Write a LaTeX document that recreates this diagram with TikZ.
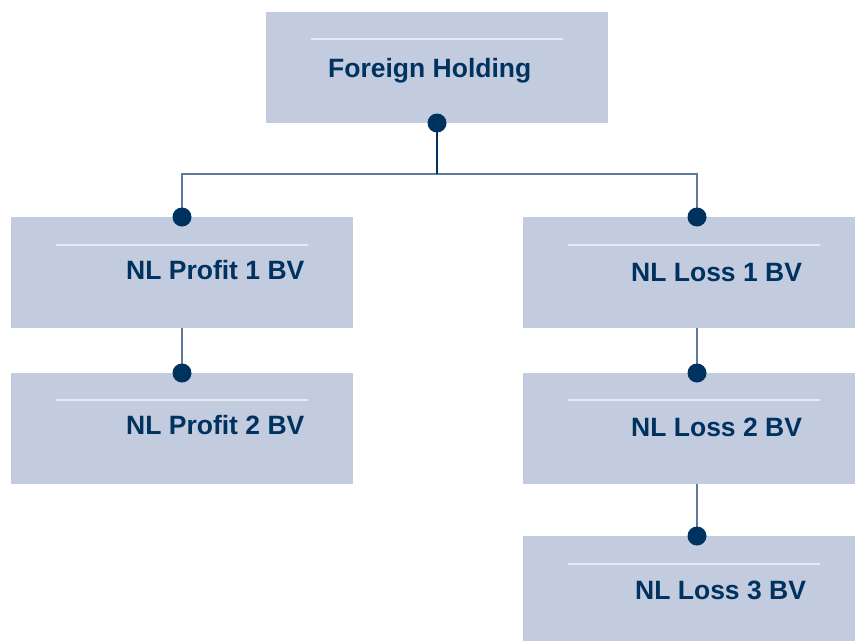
\documentclass[tikz,border=0pt]{standalone}
\usepackage{fontspec}
\setmainfont{Liberation Sans}
\usetikzlibrary{backgrounds}
\definecolor{boxfill}{HTML}{C3CCDF}
\definecolor{navy}{HTML}{00325F}
\definecolor{linkc}{HTML}{5F7B9B}
\definecolor{sepc}{HTML}{E6EAF2}
\begin{document}
\begin{tikzpicture}[x=1pt,y=-1pt,
  box/.style={rectangle, fill=boxfill, draw=none, inner sep=0pt, outer sep=0pt, minimum width=342pt, minimum height=111pt},
  lbl/.style={anchor=base west, inner sep=0pt, text=navy, font=\fontsize{26.5}{31}\selectfont\bfseries},
  dot/.style={circle, fill=navy, draw=none, inner sep=0pt, minimum size=19pt},
  sepline/.style={draw=sepc, line width=1.5pt},
  link/.style={draw=linkc, line width=1.5pt},
  toplink/.style={draw=navy, line width=1.5pt}]
\useasboundingbox (0,0) rectangle (855,641);
% boxes
\node[box] (fh) at (437,67.5) {};
\node[box] (p1) at (182,272.5) {};
\node[box, minimum width=332pt] (l1) at (689,272.5) {};
\node[box] (p2) at (182,428.5) {};
\node[box, minimum width=332pt] (l2) at (689,428.5) {};
\node[box, minimum width=332pt, minimum height=105pt] (l3) at (689,588.5) {};
% separator lines
\draw[sepline] (311,39) -- (563,39);
\draw[sepline] (56,245) -- (308,245);
\draw[sepline] (568,245) -- (820,245);
\draw[sepline] (56,400) -- (308,400);
\draw[sepline] (568,400) -- (820,400);
\draw[sepline] (568,564) -- (820,564);
% labels
\node[lbl] (tfh) at (328,77) {Foreign Holding};
\node[lbl] (tp1) at (126,279) {NL Profit 1 BV};
\node[lbl] (tl1) at (631,281) {NL Loss 1 BV};
\node[lbl] (tp2) at (126,434) {NL Profit 2 BV};
\node[lbl] (tl2) at (631,436) {NL Loss 2 BV};
\node[lbl] (tl3) at (635,599) {NL Loss 3 BV};
% dots
\node[dot] (dfh) at (437,123) {};
\node[dot] (dp1) at (182,217) {};
\node[dot] (dl1) at (697,217) {};
\node[dot] (dp2) at (182,373) {};
\node[dot] (dl2) at (697,373) {};
\node[dot] (dl3) at (697,536) {};
\coordinate (j) at (437,174);
% connectors
\begin{scope}[on background layer]
\draw[link] (j) -| (dp1.center);
\draw[link] (j) -| (dl1.center);
\draw[toplink] (dfh.center) -- (j);
\draw[link] (dp1.center) -- (dp2.center);
\draw[link] (dl1.center) -- (dl2.center);
\draw[link] (dl2.center) -- (dl3.center);
\end{scope}
\end{tikzpicture}
\end{document}
